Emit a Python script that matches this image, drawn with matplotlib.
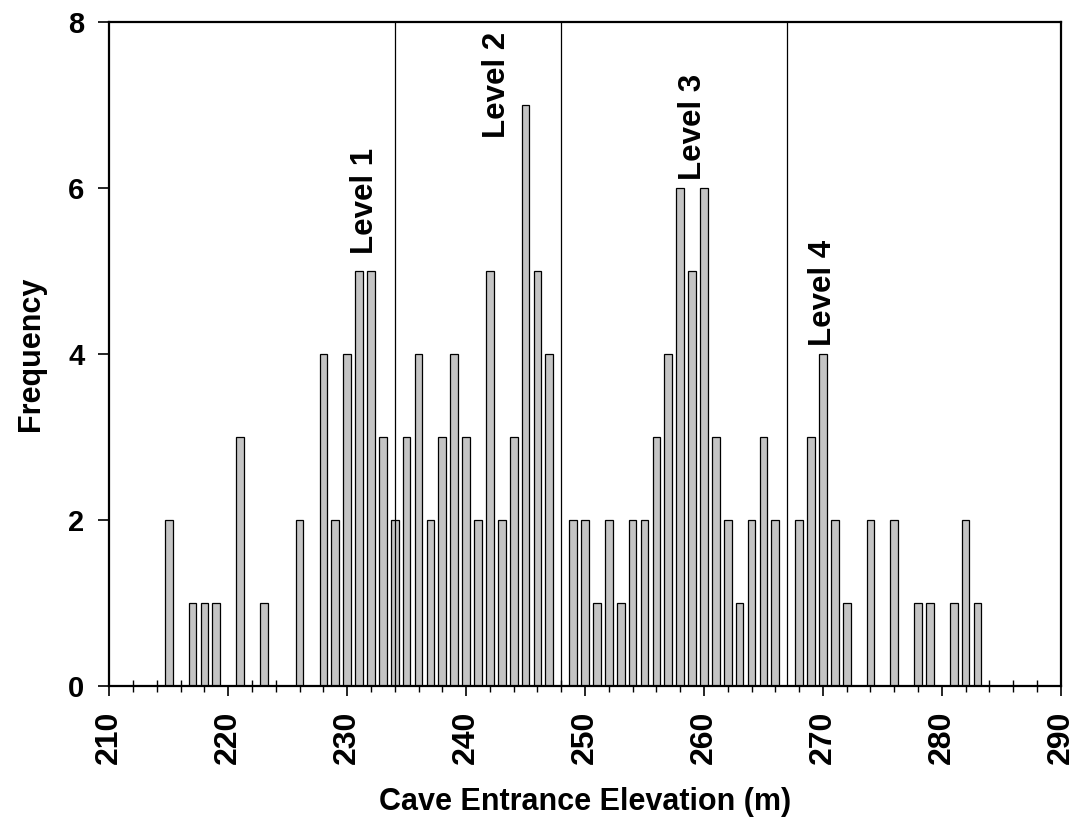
import matplotlib.pyplot as plt
from matplotlib.ticker import MultipleLocator

# elevation (m) and number of cave entrances
elevation = [215, 217, 218, 219, 221, 223, 226, 228, 229, 230, 231, 232, 233, 234,
             235, 236, 237, 238, 239, 240, 241, 242, 243, 244, 245, 246, 247,
             249, 250, 251, 252, 253, 254, 255, 256, 257, 258, 259, 260, 261, 262,
             263, 264, 265, 266, 268, 269, 270, 271, 272, 274, 276, 278, 279,
             281, 282, 283]
frequency = [2, 1, 1, 1, 3, 1, 2, 4, 2, 4, 5, 5, 3, 2,
             3, 4, 2, 3, 4, 3, 2, 5, 2, 3, 7, 5, 4,
             2, 2, 1, 2, 1, 2, 2, 3, 4, 6, 5, 6, 3, 2,
             1, 2, 3, 2, 2, 3, 4, 2, 1, 2, 2, 1, 1,
             1, 2, 1]

# level boundaries and labels
boundaries = [234, 248, 267]
level_names = ['Level 1', 'Level 2', 'Level 3', 'Level 4']
level_x = [231.5, 242.6, 259.1, 270.0]
level_y = [5.2, 6.6, 6.1, 4.1]

plt.rcParams['font.family'] = ['Liberation Sans', 'DejaVu Sans']
plt.rcParams['font.weight'] = 'bold'

fig = plt.figure(figsize=(10.77, 8.22), dpi=100)
ax = fig.add_axes([0.1015, 0.1655, 0.8834, 0.8077])

ax.bar(elevation, frequency, width=0.65, color='#c4c4c4',
       edgecolor='black', linewidth=0.9, zorder=2)

for b in boundaries:
    ax.axvline(b, color='black', linewidth=0.9, zorder=3)

for name, x, y in zip(level_names, level_x, level_y):
    ax.text(x, y, name, rotation=90, ha='center', va='bottom',
            fontsize=22.5, fontweight='bold')

ax.set_xlim(210, 290)
ax.set_ylim(0, 8)
ax.xaxis.set_major_locator(MultipleLocator(10))
ax.xaxis.set_minor_locator(MultipleLocator(2))
ax.yaxis.set_major_locator(MultipleLocator(2))

ax.tick_params(axis='x', which='major', direction='out', length=7, width=1.2,
               labelsize=23, labelrotation=90, pad=11)
ax.tick_params(axis='x', which='minor', direction='inout', length=8, width=1)
ax.tick_params(axis='y', which='major', direction='out', length=8, width=1.2,
               labelsize=21, pad=10)

for s in ax.spines.values():
    s.set_linewidth(1.6)

ax.set_xlabel('Cave Entrance Elevation (m)', fontsize=22, fontweight='bold',
              labelpad=16)
ax.set_ylabel('Frequency', fontsize=22, fontweight='bold', labelpad=16)

fig.savefig('out.png', dpi=100)
